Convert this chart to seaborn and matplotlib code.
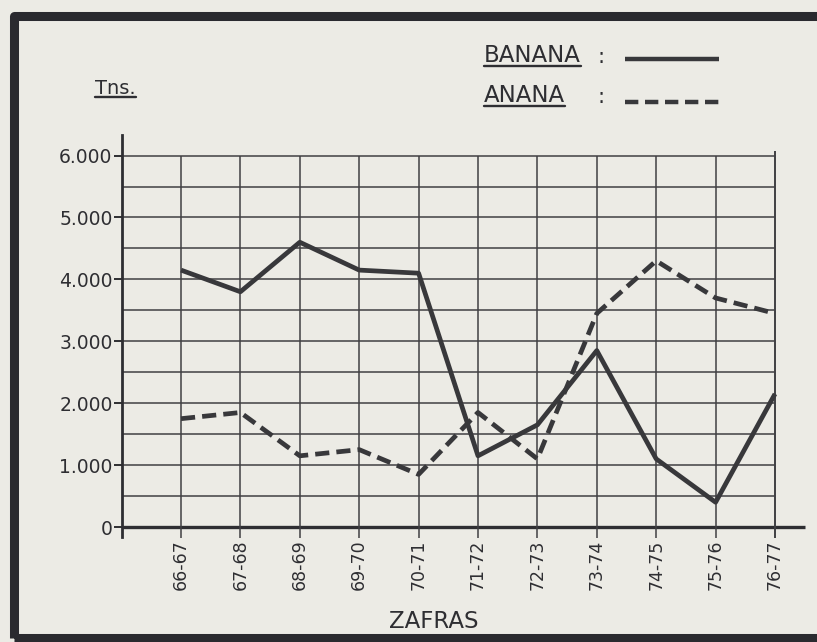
import matplotlib
matplotlib.use("Agg")
import matplotlib.pyplot as plt
from matplotlib.lines import Line2D
from matplotlib.patches import Rectangle
import seaborn as sns
import pandas as pd

# Harvest seasons (zafras) and production in tonnes
seasons = ["66-67", "67-68", "68-69", "69-70", "70-71", "71-72",
           "72-73", "73-74", "74-75", "75-76", "76-77"]
banana = [4150, 3800, 4600, 4150, 4100, 1150, 1650, 2850, 1100, 400, 2150]
anana = [1750, 1850, 1150, 1250, 850, 1850, 1100, 3450, 4300, 3700, 3450]
y_ticks = [0, 1000, 2000, 3000, 4000, 5000, 6000]
y_tick_labels = ["0", "1.000", "2.000", "3.000", "4.000", "5.000", "6.000"]

df = pd.DataFrame({
    "zafra": seasons * 2,
    "tns": banana + anana,
    "fruta": ["BANANA"] * len(seasons) + ["ANANA"] * len(seasons),
})

PAPER = "#ecebe5"
INK = "#2e2e32"
LINE = "#38383b"
GRID = "#404043"
DASH = (3.0, 1.5)

sns.set_theme(style="white")
plt.rcParams["font.family"] = ["DejaVu Sans"]

W, H = 817, 642
fig = plt.figure(figsize=(W / 100, H / 100), dpi=100, facecolor=PAPER)


def fx(px):
    return px / W


def fy(py):
    return 1 - py / H


# axes placed so that category spacing ~59 px and 1000 t ~62 px
x0, x1 = 121.6, 810.6
ytop, ybot = 130.8, 539.4
step = 59.4
ax = fig.add_axes([fx(x0), fy(ybot), (x1 - x0) / W, (ybot - ytop) / H])
ax.set_facecolor("none")

n = len(seasons)
# grid: horizontal rules every 500 t, vertical rules at each season
ax.hlines(list(range(500, 6001, 500)), -1, n - 1, color=GRID, lw=1.1, zorder=1)
ax.hlines(0, -1, n - 0.5, color=INK, lw=2.4, zorder=1)
ax.vlines(list(range(n - 1)), -170, 6000, color=GRID, lw=1.1, zorder=1)
ax.vlines(n - 1, -170, 6080, color=GRID, lw=1.4, zorder=1)

sns.lineplot(data=df, x="zafra", y="tns", style="fruta",
             style_order=["BANANA", "ANANA"],
             dashes={"BANANA": "", "ANANA": DASH},
             color=LINE, linewidth=3.4, legend=False, sort=False, ax=ax)
for ln in ax.lines:
    ln.set_solid_joinstyle("round")
    ln.set_solid_capstyle("butt")
    ln.set_dash_capstyle("butt")

ax.set_xlim(-1, -1 + (x1 - x0) / step)
ax.set_ylim(-200, 6400)
ax.set_xlabel("")
ax.set_ylabel("")

for side in ("top", "right", "bottom"):
    ax.spines[side].set_visible(False)
ax.spines["left"].set_color(INK)
ax.spines["left"].set_linewidth(2.0)
ax.spines["left"].set_bounds(-160, 6330)

ax.set_yticks(y_ticks, y_tick_labels)
ax.set_xticks(list(range(n)), seasons, rotation=90)
ax.tick_params(axis="y", length=6, width=1.4, pad=0.5, labelsize=13.5,
               colors=INK, left=True)
ax.tick_params(axis="x", length=0, pad=0, labelsize=12.5, colors=INK)
for lab in ax.get_xticklabels():
    lab.set_verticalalignment("top")

# axis titles
fig.text(fx(434), fy(621), "ZAFRAS", ha="center", va="center",
         fontsize=16.5, color=INK)
tns = fig.text(fx(95), fy(89), "Tns.", ha="left", va="center",
               fontsize=14, color=INK)

# key
ban = fig.text(fx(484), fy(56), "BANANA", ha="left", va="center",
               fontsize=16.5, color=INK)
fig.text(fx(597), fy(57), ":", ha="left", va="center", fontsize=15, color=INK)
ana = fig.text(fx(484), fy(96), "ANANA", ha="left", va="center",
               fontsize=16.5, color=INK)
fig.text(fx(597), fy(97), ":", ha="left", va="center", fontsize=15, color=INK)
fig.add_artist(Line2D([fx(625), fx(719)], [fy(59)] * 2, transform=fig.transFigure,
                      color=LINE, lw=3.2, solid_capstyle="butt"))
fig.add_artist(Line2D([fx(625), fx(724)], [fy(102)] * 2, transform=fig.transFigure,
                      color=LINE, lw=3.2, dashes=DASH, dash_capstyle="butt"))

# frame around the sheet
fig.add_artist(Rectangle((fx(14), fy(637.5)), fx(900), fy(15.5) - fy(637.5),
                         transform=fig.transFigure, fill=False,
                         edgecolor="#2a2a2f", lw=6.5, joinstyle="round"))

# underline titles
fig.canvas.draw()
rend = fig.canvas.get_renderer()
inv = fig.transFigure.inverted()
for t in (tns, ban, ana):
    bb = t.get_window_extent(rend).transformed(inv)
    yline = bb.y0 + 1.5 / H
    fig.add_artist(Line2D([bb.x0, bb.x1], [yline, yline], transform=fig.transFigure,
                          color=INK, lw=1.7))

fig.savefig("out.png", dpi=100, facecolor=PAPER)
